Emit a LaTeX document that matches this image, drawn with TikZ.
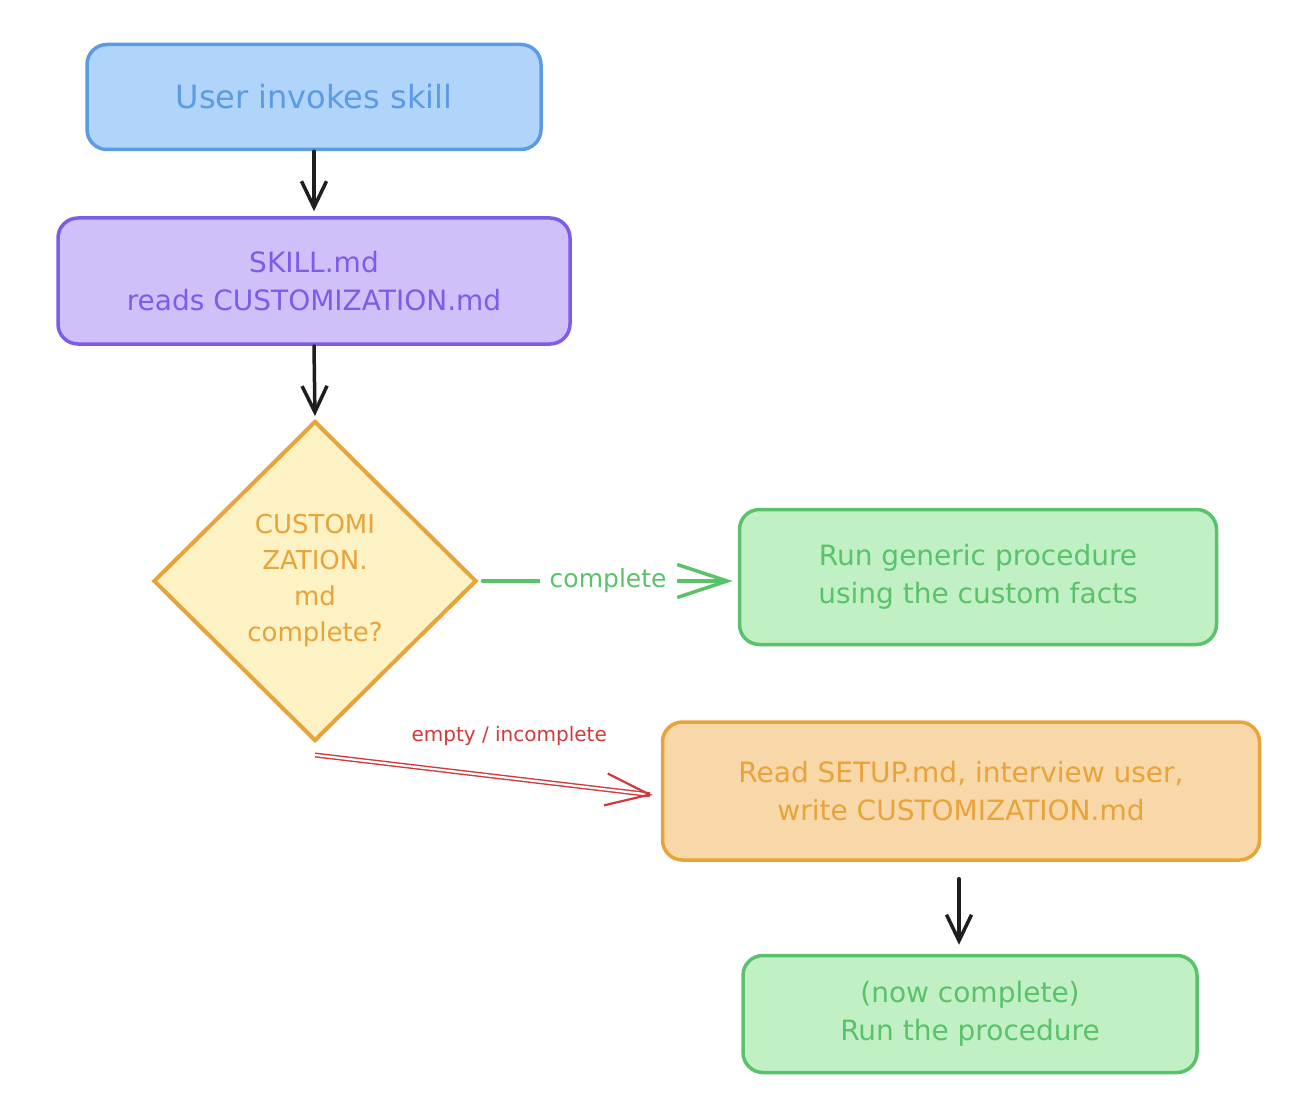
\documentclass[tikz,border=0pt]{standalone}
\usepackage{fontspec}
\setmainfont{DejaVu Sans}
\usetikzlibrary{arrows.meta,shapes.geometric,calc}
\definecolor{bluefill}{HTML}{B0D4FA}
\definecolor{bluestroke}{HTML}{5B9BE4}
\definecolor{purpfill}{HTML}{D0C0FA}
\definecolor{purpstroke}{HTML}{7C5CE8}
\definecolor{yelfill}{HTML}{FCF2C4}
\definecolor{orstroke}{HTML}{E8A33A}
\definecolor{greenfill}{HTML}{C0F0C4}
\definecolor{greenstroke}{HTML}{5AC26A}
\definecolor{orfill}{HTML}{F8D8A8}
\definecolor{redc}{HTML}{D03A3A}
\definecolor{inkc}{HTML}{1E1E1E}
\tikzset{
  boxbase/.style={rectangle, rounded corners=20pt, line width=3.5pt, align=center,
    inner sep=0pt, font=\fontsize{28}{38}\selectfont},
  bluebox/.style={boxbase, draw=bluestroke, fill=bluefill, text=bluestroke},
  purpbox/.style={boxbase, draw=purpstroke, fill=purpfill, text=purpstroke},
  greenbox/.style={boxbase, draw=greenstroke, fill=greenfill, text=greenstroke},
  orbox/.style={boxbase, draw=orstroke, fill=orfill, text=orstroke},
  decision/.style={diamond, draw=orstroke, fill=yelfill, text=orstroke, line width=4pt,
    align=center, inner sep=0pt, font=\fontsize{26}{36}\selectfont},
  blackarrow/.style={draw=inkc, line width=3.5pt, line cap=round,
    -{Straight Barb[length=26pt,width=25pt,line width=3.5pt]}},
}
\begin{document}
\begin{tikzpicture}[x=1pt,y=-1pt]
\useasboundingbox (0,0) rectangle (1306,1118);
\fill[white] (0,0) rectangle (1306,1118);

\node[bluebox, minimum width=454pt, minimum height=105pt] (b1) at (314,97)
  {\fontsize{32}{38}\selectfont User invokes skill};
\node[purpbox, minimum width=512pt, minimum height=126pt] (b2) at (314,281)
  {SKILL.md\\reads CUSTOMIZATION.md};
\node[decision, minimum width=323pt, minimum height=320pt] (d) at (315,581)
  {CUSTOMI\\ZATION.\\md\\complete?};
\node[greenbox, minimum width=477pt, minimum height=135pt] (g1) at (978,577)
  {Run generic procedure\\using the custom facts};
\node[orbox, minimum width=597pt, minimum height=138pt] (o) at (961,791)
  {Read SETUP.md, interview user,\\write CUSTOMIZATION.md};
\node[greenbox, minimum width=454pt, minimum height=117pt] (g2) at (970,1014)
  {(now complete)\\Run the procedure};

% black arrows
\draw[blackarrow, shorten >=5pt] (b1.south) -- (b2.north);
\draw[blackarrow, shorten >=3pt] (b2.south) -- (d.north);
\draw[blackarrow, shorten <=17pt, shorten >=9pt]
  ([xshift=-2pt]o.south) -- ([xshift=-2pt]o.south |- g2.north);

% complete arrow
\draw[greenstroke, line width=3.5pt, line cap=round,
  -{Straight Barb[length=50pt,width=33pt,line width=3.5pt]}, shorten <=4pt, shorten >=5pt]
  (d.east) -- node[fill=white, text=greenstroke, inner sep=10pt,
     font=\fontsize{25}{30}\selectfont] (lc) {complete} (d.east -| g1.west);

% empty / incomplete arrow
\coordinate (rs) at ($(d.south)+(0,12)$);
\coordinate (re) at ([xshift=-8pt,yshift=-4pt]o.west);
\draw[redc, line width=1.4pt, double=white, double distance=2.2pt]
  (rs) -- ($(re)!3pt!(rs)$)
  node[pos=0.58, yshift=42pt, text=redc, font=\fontsize{20}{24}\selectfont] (lr) {empty / incomplete};
\draw[redc, line width=2.2pt, line cap=round,
  -{Straight Barb[length=44pt,width=32pt,line width=2.2pt]}]
  ($(re)!6pt!(rs)$) -- (re);
\end{tikzpicture}
\end{document}
